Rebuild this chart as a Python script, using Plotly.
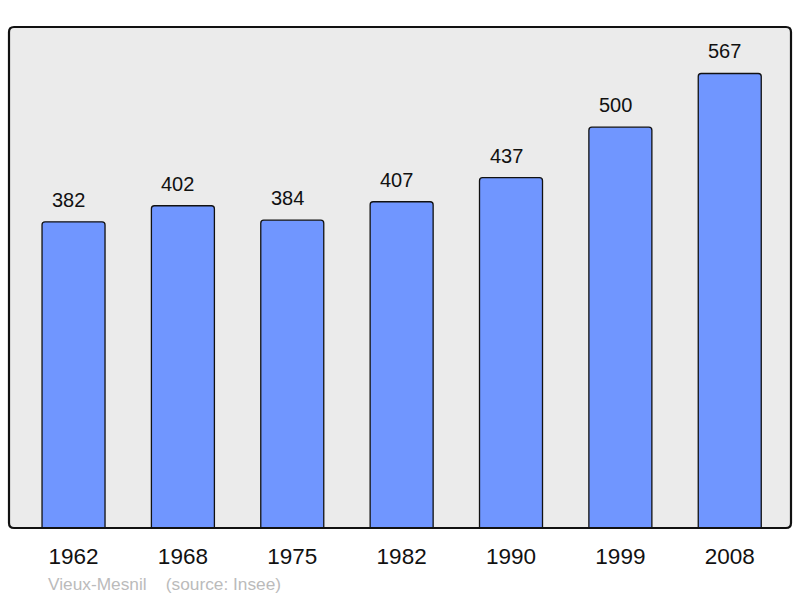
import plotly.graph_objects as go

years = ["1962", "1968", "1975", "1982", "1990", "1999", "2008"]
population = [382, 402, 384, 407, 437, 500, 567]
source_text = "Vieux-Mesnil    (source: Insee)"

W, H = 800, 598
ml, mr, mt, mb = 9, 9, 27, 70
FONT = "Liberation Sans, Arial, sans-serif"

idx = list(range(len(years)))

fig = go.Figure()
fig.add_trace(go.Bar(
    x=idx, y=population, width=0.576,
    marker=dict(color="#7096ff", line=dict(color="#111111", width=1.3), cornerradius=3),
    hoverinfo="skip",
))

for i, v in zip(idx, population):
    fig.add_annotation(x=i, y=v, xref="x", yref="y", text=str(v), showarrow=False,
                       yanchor="bottom", yshift=9, xshift=-5,
                       font=dict(size=20, color="#111111", family=FONT))

pw, ph = W - ml - mr, H - mt - mb
r = 5
rx, ry = r / pw, r / ph
path = (f"M {rx},0 L {1-rx},0 Q 1,0 1,{ry} L 1,{1-ry} Q 1,1 {1-rx},1 "
        f"L {rx},1 Q 0,1 0,{1-ry} L 0,{ry} Q 0,0 {rx},0 Z")
fig.add_shape(type="path", path=path, xref="paper", yref="paper",
              line=dict(color="#111111", width=2.2), layer="above")

fig.add_annotation(x=(46 - ml) / pw, y=-(584 - (H - mb)) / ph, xref="paper", yref="paper",
                   xanchor="left", yanchor="middle", showarrow=False, text=source_text,
                   font=dict(size=17.3, color="#bbbbbb", family=FONT))

fig.update_layout(
    width=W, height=H,
    margin=dict(l=ml, r=mr, t=mt, b=mb),
    paper_bgcolor="white", plot_bgcolor="#ebebeb",
    showlegend=False,
    font=dict(family=FONT, color="#111111"),
)
fig.update_xaxes(range=[-0.59, 6.56], tickmode="array", tickvals=idx, ticktext=years,
                 showgrid=False, zeroline=False, showline=False, ticks="",
                 ticklabelstandoff=12, tickfont=dict(size=22.5, color="#111111"))
fig.update_yaxes(range=[0, 625], showgrid=False, zeroline=False, showticklabels=False,
                 showline=False)

fig.write_html("out.html", post_script="document.body.style.margin='0';",
               config={"displayModeBar": False})
